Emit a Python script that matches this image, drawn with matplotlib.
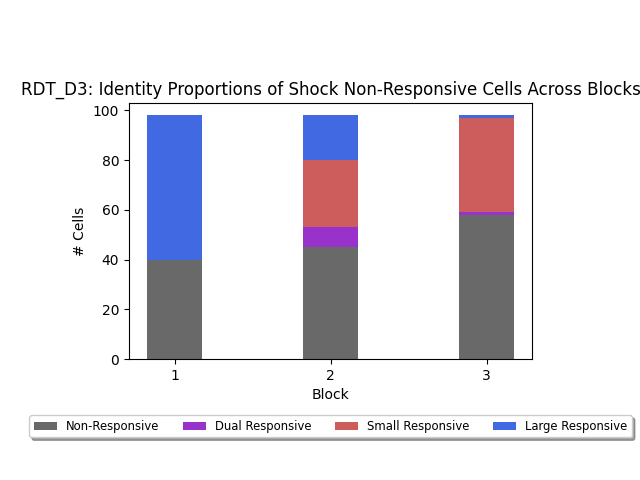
import numpy
import matplotlib
matplotlib.use("Agg")
import matplotlib.pyplot

blocks = [1, 2, 3]
non_responsive = [40, 45, 58]
dual_responsive = [0, 8, 1]
small_responsive = [0, 27, 38]
large_responsive = [58, 18, 1]

labels = ["Non-Responsive", "Dual Responsive", "Small Responsive", "Large Responsive"]
colors = ["dimgray", "darkorchid", "indianred", "royalblue"]

figure = matplotlib.pyplot.figure(figsize=(6.4, 4.8), dpi=100)
axis = figure.add_axes([0.2016, 0.252, 0.63, 0.533])

bottom = numpy.zeros(len(blocks))
for values, label, color in zip([non_responsive, dual_responsive, small_responsive, large_responsive], labels, colors):
    axis.bar(blocks, values, width=0.35, bottom=bottom, color=color, label=label)
    bottom += numpy.array(values)

axis.set_xticks(blocks)
axis.set_xlabel("Block")
axis.set_ylabel("# Cells")
axis.set_title("RDT_D3: Identity Proportions of Shock Non-Responsive Cells Across Blocks")
axis.legend(loc="upper center", bbox_to_anchor=(0.5, -0.197), ncol=4, fancybox=True, shadow=True, fontsize="small")

matplotlib.pyplot.savefig("out.png")
